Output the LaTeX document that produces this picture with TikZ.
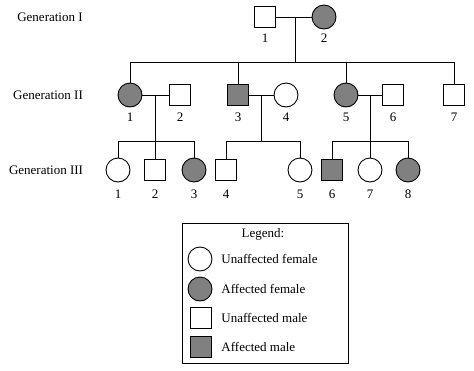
\documentclass[tikz,border=0pt]{standalone}
\usepackage{fontspec}
\setmainfont{Liberation Serif}
\definecolor{affgray}{RGB}{128,128,128}
\begin{document}
\begin{tikzpicture}[x=1pt,y=-1pt,line width=0.9pt,
  fem/.style={circle,draw,minimum size=24pt,inner sep=0pt},
  mal/.style={rectangle,draw,minimum size=21pt,inner sep=0pt},
  aff/.style={fill=affgray},
  txt/.style={font=\fontsize{13}{15}\selectfont,inner sep=0pt},
  num/.style={font=\fontsize{13}{15}\selectfont,inner sep=0pt}]
\useasboundingbox (0,0) rectangle (474,370);
% generation labels
\node[txt] (g1) at (50,17) {Generation I};
\node[txt] (g2) at (48,95) {Generation II};
\node[txt] (g3) at (46,170) {Generation III};
% Generation I
\node[mal] (i1) at (265,17) {};
\node[fem,aff] (i2) at (324,17) {};
\node[num] (n-i1) at (265,38) {1};
\node[num] (n-i2) at (324,38) {2};
\coordinate (c1) at (295,17);
\coordinate (c1b) at (295,62);
\coordinate (s1l) at (130,62);
\coordinate (s1a) at (238,62);
\coordinate (s1b) at (346,62);
\coordinate (s1r) at (454,62);
% Generation II
\node[fem,aff] (ii1) at (130,95) {};
\node[mal] (ii2) at (180,95) {};
\node[mal,aff] (ii3) at (238,95) {};
\node[fem] (ii4) at (286,95) {};
\node[fem,aff] (ii5) at (346,95) {};
\node[mal] (ii6) at (393,95) {};
\node[mal] (ii7) at (454,95) {};
\foreach \n/\x in {1/130,2/180,3/238,4/286,5/346,6/393,7/454}
  \node[num] (n-ii\n) at (\x,117) {\n};
% Generation III
\node[fem] (iii1) at (118,170) {};
\node[mal] (iii2) at (155,170) {};
\node[fem,aff] (iii3) at (194,170) {};
\node[mal] (iii4) at (226,170) {};
\node[fem] (iii5) at (300,170) {};
\node[mal,aff] (iii6) at (332,170) {};
\node[fem] (iii7) at (370,170) {};
\node[fem,aff] (iii8) at (408,170) {};
\foreach \n/\x in {1/118,2/155,3/194,4/226,5/300,6/332,7/370,8/408}
  \node[num] (n-iii\n) at (\x,194) {\n};
% connectors generation I
\draw (i1.east) -- (i2.west);
\draw (c1) -- (c1b);
\draw (s1l) -- (s1r);
\draw (s1l) -- (ii1.north);
\draw (s1a) -- (ii3.north);
\draw (s1b) -- (ii5.north);
\draw (s1r) -- (ii7.north);
% family 1
\coordinate (f1) at (155,95);
\coordinate (f1b) at (155,141);
\coordinate (f1l) at (118,141);
\coordinate (f1r) at (194,141);
\draw (ii1.east) -- (ii2.west);
\draw (f1) -- (f1b);
\draw (f1l) -- (f1r);
\draw (f1l) -- (iii1.north);
\draw (f1b) -- (iii2.north);
\draw (f1r) -- (iii3.north);
% family 2
\coordinate (f2) at (261,95);
\coordinate (f2b) at (261,141);
\coordinate (f2l) at (226,141);
\coordinate (f2r) at (300,141);
\draw (ii3.east) -- (ii4.west);
\draw (f2) -- (f2b);
\draw (f2l) -- (f2r);
\draw (f2l) -- (iii4.north);
\draw (f2r) -- (iii5.north);
% family 3
\coordinate (f3) at (370,95);
\coordinate (f3b) at (370,141);
\coordinate (f3l) at (332,141);
\coordinate (f3r) at (408,141);
\draw (ii5.east) -- (ii6.west);
\draw (f3) -- (f3b);
\draw (f3l) -- (f3r);
\draw (f3l) -- (iii6.north);
\draw (f3b) -- (iii7.north);
\draw (f3r) -- (iii8.north);
% legend
\node[draw,minimum width=166pt,minimum height=140pt,inner sep=0pt] (leg) at (265,293) {};
\node[txt] (legt) at (263,234) {Legend:};
\node[fem] (l1) at (200,259) {};
\node[fem,aff] (l2) at (200,289) {};
\node[mal] (l3) at (201,318) {};
\node[mal,aff] (l4) at (201,347) {};
\node[txt,anchor=west] (lt1) at (221,259) {Unaffected female};
\node[txt,anchor=west] (lt2) at (221,289) {Affected female};
\node[txt,anchor=west] (lt3) at (221,318) {Unaffected male};
\node[txt,anchor=west] (lt4) at (221,347) {Affected male};
\end{tikzpicture}
\end{document}
